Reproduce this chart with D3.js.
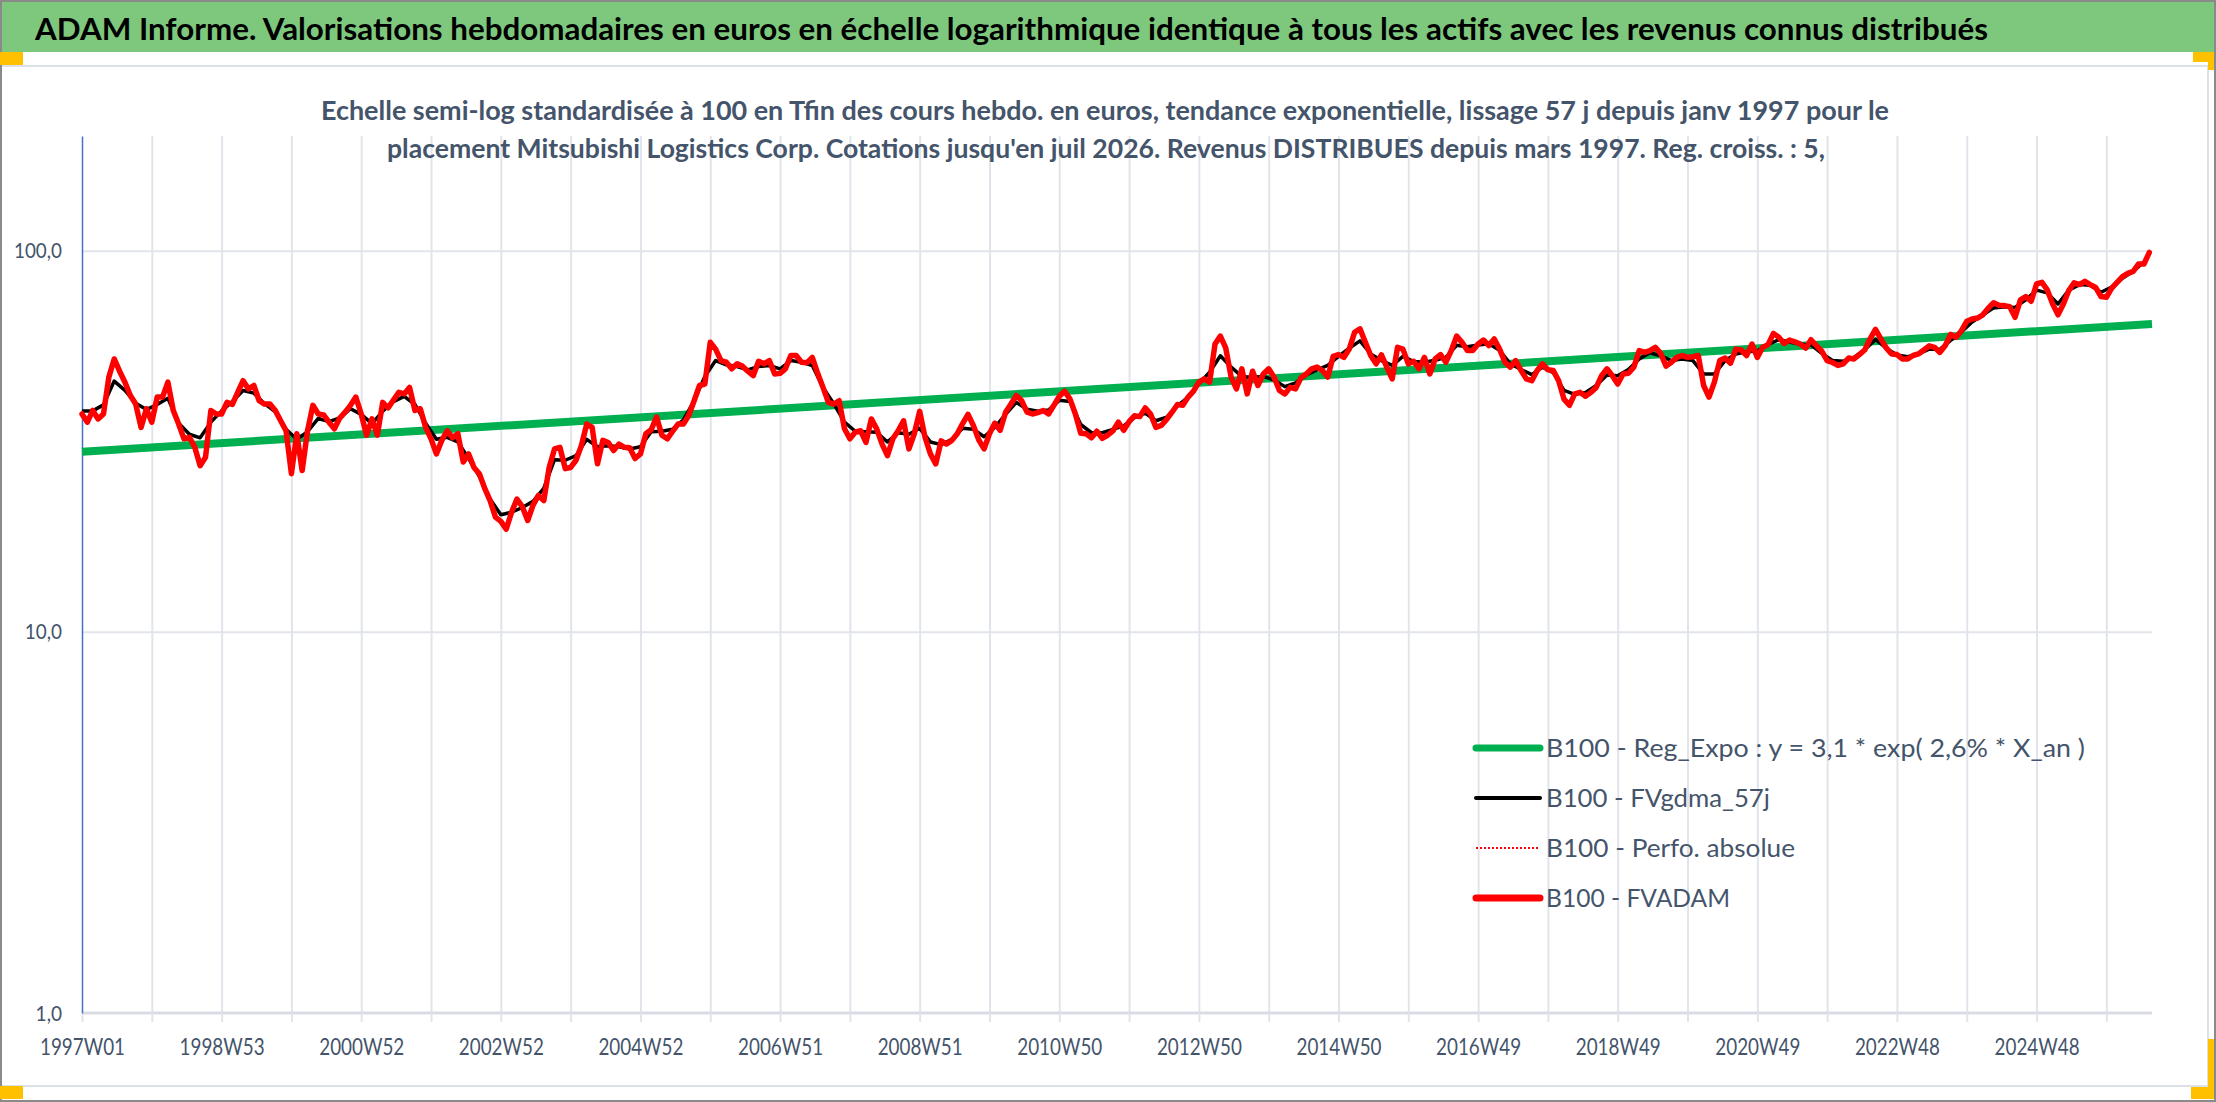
<!DOCTYPE html>
<html>
  <head>
    <meta charset="utf-8" />
    <script src="https://d3js.org/d3.v7.min.js"></script>
    <style>
      body { margin: 0; background: #ffffff; }
      svg text { font-family: Lato, "Open Sans", sans-serif; }
      .titre { font-size: 30px; font-weight: 700; fill: #000000; }
      .soustitre { font-size: 27px; font-weight: 700; fill: #44546A; }
      .legende { font-size: 25px; fill: #44546A; }
      .grille line { stroke: #E1E5EB; stroke-width: 2; }
    </style>
  </head>
  <body>
    <svg width="2216" height="1102"></svg>

    <script type="text/javascript">

    // axe des semaines : 1997W01 -> 2026W30
    var nWeeks = 1543;
    var tickLabels = ["1997W01", "1998W53", "2000W52", "2002W52", "2004W52", "2006W51", "2008W51",
      "2010W50", "2012W50", "2014W50", "2016W49", "2018W49", "2020W49", "2022W48", "2024W48"];
    var yTicks = [1, 10, 100];

    var seriesNames = ["B100 - Reg_Expo : y = 3,1 * exp( 2,6% *  X_an )", "B100 - FVgdma_57j",
      "B100 - Perfo. absolue", "B100 - FVADAM"];

    // B100 - FVADAM, une valeur toutes les 4 semaines
    var redStep = 4;
    var redValues = [
      37.3,35.5,38.1,36.2,37.3,46.6,52.0,48.3,45.2,41.7,
      39.6,34.4,38.5,35.5,41.3,41.3,45.2,38.1,35.1,32.1,
      32.4,30.5,27.3,28.7,38.1,37.3,37.3,40.0,39.5,42.5,
      45.6,43.4,44.3,40.4,39.6,39.6,38.1,35.8,33.7,26.0,
      33.1,26.5,33.7,39.3,37.3,37.1,35.5,34.1,36.4,37.7,
      39.3,41.3,37.3,32.8,36.2,32.8,40.0,38.7,40.6,42.5,
      42.1,43.8,38.1,38.5,34.4,32.1,29.3,31.8,33.7,32.3,
      33.1,27.9,29.3,27.0,26.0,23.8,22.1,20.0,19.5,18.6,
      20.6,22.3,21.3,19.6,21.5,22.8,22.1,27.0,30.2,30.5,
      26.8,27.0,28.2,30.8,35.1,34.4,27.6,31.8,31.4,29.9,
      31.1,30.5,30.4,28.5,29.3,33.1,33.9,36.6,32.8,32.1,
      33.6,35.1,35.1,37.0,40.4,44.3,44.7,57.5,55.2,51.5,
      51.0,49.0,50.5,49.8,48.3,47.0,51.3,50.5,51.5,47.5,
      47.7,49.0,53.1,53.1,51.0,50.8,52.5,47.7,43.8,40.0,
      39.6,40.4,34.1,32.1,33.4,33.7,31.4,36.2,34.1,31.1,
      29.0,32.1,33.7,35.8,30.2,33.1,37.9,32.4,29.3,27.6,
      31.7,31.1,31.8,33.1,35.2,37.2,34.8,31.9,30.2,33.1,
      35.3,33.8,37.7,39.6,41.7,40.4,37.7,37.3,37.6,38.1,
      37.3,39.3,41.5,42.8,40.8,37.3,33.2,33.1,32.3,33.6,
      32.2,32.8,33.7,35.5,33.8,35.6,36.9,36.7,38.7,37.3,
      34.4,34.8,36.1,37.7,39.5,39.3,41.3,42.8,45.2,46.1,
      45.2,56.9,59.7,55.6,46.6,43.4,49.0,42.1,48.3,44.3,
      47.5,49.0,46.6,43.0,42.1,43.8,43.4,46.4,47.5,49.0,
      49.5,48.5,46.6,52.8,53.4,52.5,55.2,61.1,62.4,57.5,
      53.1,50.5,53.3,49.5,46.1,55.8,55.2,50.5,51.3,49.0,
      52.5,47.5,52.0,53.4,51.0,54.7,59.7,57.5,54.7,54.7,
      56.9,58.3,56.4,58.7,55.2,51.0,49.5,51.5,48.5,46.1,
      45.6,48.5,50.5,48.7,48.5,45.6,40.8,39.3,42.1,42.5,
      41.5,42.5,43.8,47.0,49.0,47.0,44.7,47.5,47.7,49.5,
      54.7,54.1,54.7,55.8,53.8,49.8,51.0,52.5,53.1,52.5,
      52.7,53.1,44.3,41.3,45.2,51.5,52.3,50.7,55.2,54.9,
      53.1,56.9,52.5,55.8,56.7,60.7,59.3,57.1,58.3,57.7,
      56.9,55.5,58.4,56.4,54.5,51.5,50.9,50.0,50.5,52.3,
      52.0,53.4,54.9,58.7,62.2,58.7,55.6,53.6,53.4,52.0,
      52.0,53.1,53.6,54.9,56.3,55.8,54.1,56.4,60.3,59.3,
      61.7,65.3,66.2,66.6,67.9,70.7,73.0,71.9,71.8,71.3,
      66.9,74.3,75.8,73.7,81.8,82.6,78.9,72.5,67.9,72.5,
      78.6,82.4,81.5,83.1,81.5,80.1,75.8,75.5,79.8,82.6,
      85.5,87.2,88.3,92.3,92.3,99.0];

    // B100 - FVgdma_57j, une valeur toutes les 8 semaines
    var blackStep = 8;
    var blackValues = [
      38.0,38.0,39.4,45.5,43.0,39.8,38.3,39.5,41.0,35.3,
      33.0,32.3,35.5,38.0,40.2,43.0,42.3,39.7,37.8,34.0,
      32.0,33.5,36.3,35.6,36.4,38.5,37.2,35.2,37.9,40.2,
      41.5,39.5,35.3,32.0,32.4,31.5,28.5,25.6,22.3,20.3,
      20.6,21.2,22.0,23.8,28.3,28.2,29.0,32.0,30.6,30.8,
      30.6,30.2,30.6,33.5,33.6,34.0,36.0,40.4,46.8,51.5,
      50.2,49.7,48.7,49.7,50.0,49.0,51.5,51.0,50.0,43.8,
      39.7,35.5,33.6,33.5,33.4,31.5,33.3,33.0,34.2,31.5,
      31.0,32.0,34.2,34.0,32.5,34.4,37.2,40.0,38.4,37.9,
      38.2,40.5,40.2,35.0,33.3,33.3,34.0,34.7,36.5,37.5,
      35.8,36.6,39.2,41.2,44.8,48.0,53.0,49.5,46.8,46.5,
      46.8,45.8,44.0,45.0,47.2,48.7,50.0,52.8,55.5,58.0,
      53.6,51.5,50.0,52.8,51.2,51.0,51.6,52.5,56.5,56.0,
      56.6,57.0,54.8,50.5,48.8,47.3,49.5,47.9,43.0,42.0,
      42.5,44.3,47.2,47.0,48.8,52.0,54.0,53.0,51.5,52.0,
      51.5,47.5,47.5,51.5,53.6,54.3,54.6,56.8,58.4,57.6,
      56.8,56.6,53.8,51.5,51.3,52.5,55.0,58.5,55.5,53.3,
      52.7,53.6,55.2,55.1,58.2,61.2,65.0,67.8,70.8,71.3,
      71.0,74.3,78.8,77.5,72.5,78.8,81.5,81.2,77.8,80.3,
      84.7,88.3,93.4];

    // B100 - Reg_Expo : debut et fin de la tendance
    var trendWeeks = [0, 1542];
    var trendValues = [29.7, 64.2];

    var svg = d3.select("svg");

    var x = d3.scaleLinear().domain([0, nWeeks - 1]).range([82, 2152]);
    var y = d3.scaleLog().domain([1, 200]).range([1013, 136]);

    // cadre et bandeau
    svg.append("rect").attr("width", 2216).attr("height", 1102).attr("fill", "#ffffff");
    svg.append("rect").attr("x", 0).attr("y", 0).attr("width", 2216).attr("height", 52).attr("fill", "#7EC87E");
    svg.append("rect").attr("x", 1).attr("y", 66).attr("width", 2207).attr("height", 1020)
      .attr("fill", "none").attr("stroke", "#DCE1E8").attr("stroke-width", 2);
    svg.append("rect").attr("x", 1).attr("y", 1).attr("width", 2214).attr("height", 1100)
      .attr("fill", "none").attr("stroke", "#8A8A8A").attr("stroke-width", 2);

    var orange = [[0, 52, 23, 13], [2193, 52, 21, 10], [2208, 52, 6, 18],
                  [0, 1086, 23, 13], [2208, 1039, 6, 60], [2191, 1087, 23, 12]];
    svg.selectAll(".orange").data(orange).enter().append("rect")
      .attr("class", "orange")
      .attr("x", function(d) { return d[0]; }).attr("y", function(d) { return d[1]; })
      .attr("width", function(d) { return d[2]; }).attr("height", function(d) { return d[3]; })
      .attr("fill", "#FFC000");

    svg.append("text").attr("class", "titre").attr("x", 35).attr("y", 40)
      .attr("textLength", 1953).attr("lengthAdjust", "spacingAndGlyphs")
      .text("ADAM Informe. Valorisations hebdomadaires en euros en échelle logarithmique identique à tous les actifs avec les revenus connus distribués");

    // grilles
    svg.append("g").attr("class", "grille")
      .attr("transform", "translate(0,1013)")
      .call(d3.axisBottom(x).tickValues(d3.range(52, nWeeks, 52)).tickSize(-(1013 - 136)).tickFormat(""))
      .select(".domain").remove();

    svg.append("g").attr("class", "grille")
      .attr("transform", "translate(82,0)")
      .call(d3.axisLeft(y).tickValues([10, 100]).tickSize(-(2152 - 82)).tickFormat(""))
      .select(".domain").remove();

    svg.append("text").attr("class", "soustitre").attr("x", 1105).attr("y", 120)
      .attr("text-anchor", "middle").attr("textLength", 1568).attr("lengthAdjust", "spacingAndGlyphs")
      .text("Echelle semi-log standardisée à 100 en Tfin des cours hebdo. en euros, tendance exponentielle, lissage 57 j depuis janv 1997 pour le");
    svg.append("text").attr("class", "soustitre").attr("x", 1106).attr("y", 158)
      .attr("text-anchor", "middle").attr("textLength", 1438).attr("lengthAdjust", "spacingAndGlyphs")
      .text("placement Mitsubishi Logistics Corp. Cotations jusqu'en juil 2026. Revenus DISTRIBUES depuis mars 1997. Reg. croiss. : 5,");

    // axe X
    var gx = svg.append("g").attr("transform", "translate(0,1013)")
      .call(d3.axisBottom(x).tickValues(d3.range(0, nWeeks, 52)).tickSize(9).tickSizeOuter(0)
        .tickFormat(function(d) { return d % 104 === 0 ? tickLabels[d / 104] : ""; }));
    gx.select(".domain").attr("stroke", "#D9DDE3").attr("stroke-width", 3)
      .attr("d", "M82,0H2152");
    gx.selectAll(".tick line").attr("stroke", "#E1E5EB").attr("stroke-width", 2);
    gx.selectAll(".tick text")
      .attr("y", 42).attr("dy", null)
      .attr("fill", "#44546A").style("font-size", "23px")
      .attr("textLength", function(d) { return d % 104 === 0 ? 85 : null; })
      .attr("lengthAdjust", "spacingAndGlyphs");

    // axe Y
    var gy = svg.append("g").attr("transform", "translate(82,0)")
      .call(d3.axisLeft(y).tickValues(yTicks).tickSize(0).tickSizeOuter(0).tickPadding(20)
        .tickFormat(function(d) { return d3.format(".1f")(d).replace(".", ","); }));
    gy.select(".domain").attr("stroke", "#4472C4").attr("stroke-width", 1.5);
    gy.selectAll(".tick text")
      .attr("fill", "#44546A").style("font-size", "22px")
      .attr("textLength", function(d) { return String(d).length * 10.8 + 10.8 + 4.8; })
      .attr("lengthAdjust", "spacingAndGlyphs");

    // courbes
    var lineStep = function(step) {
      return d3.line()
        .x(function(d, i) { return x(i * step); })
        .y(function(d) { return y(d); });
    };

    svg.append("path").datum(trendValues)
      .attr("d", d3.line().x(function(d, i) { return x(trendWeeks[i]); }).y(function(d) { return y(d); }))
      .attr("fill", "none").attr("stroke", "#00B050").attr("stroke-width", 8);

    svg.append("path").datum(blackValues)
      .attr("d", lineStep(blackStep))
      .attr("fill", "none").attr("stroke", "#000000").attr("stroke-width", 3.5)
      .attr("stroke-linejoin", "round");

    svg.append("path").datum(redValues)
      .attr("d", lineStep(redStep))
      .attr("fill", "none").attr("stroke", "#FF0000").attr("stroke-width", 1.5)
      .attr("stroke-dasharray", "2,2");

    svg.append("path").datum(redValues)
      .attr("d", lineStep(redStep))
      .attr("fill", "none").attr("stroke", "#FF0000").attr("stroke-width", 5.5)
      .attr("stroke-linejoin", "round").attr("stroke-linecap", "round");

    // legende
    var legendStyle = [
      { color: "#00B050", width: 7, dash: null, len: 539 },
      { color: "#000000", width: 4, dash: null, len: 224 },
      { color: "#FF0000", width: 2, dash: "2,2", len: 249 },
      { color: "#FF0000", width: 7, dash: null, len: 184 }
    ];
    var leg = svg.selectAll(".leg").data(seriesNames).enter().append("g")
      .attr("class", "leg")
      .attr("transform", function(d, i) { return "translate(1476," + (748 + i * 50) + ")"; });
    leg.append("line").attr("x1", 0).attr("x2", 64).attr("y1", 0).attr("y2", 0)
      .attr("stroke", function(d, i) { return legendStyle[i].color; })
      .attr("stroke-width", function(d, i) { return legendStyle[i].width; })
      .attr("stroke-dasharray", function(d, i) { return legendStyle[i].dash; })
      .attr("stroke-linecap", function(d, i) { return legendStyle[i].dash ? "butt" : "round"; });
    leg.append("text").attr("class", "legende").attr("x", 70).attr("y", 9)
      .attr("textLength", function(d, i) { return legendStyle[i].len; })
      .attr("lengthAdjust", "spacingAndGlyphs")
      .text(function(d) { return d; });

    </script>
  </body>
</html>
